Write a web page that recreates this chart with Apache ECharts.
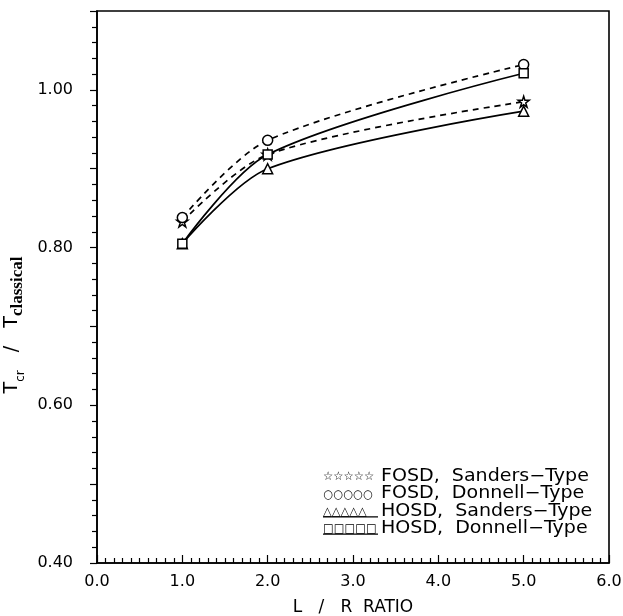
<!DOCTYPE html>
<html><head><meta charset="utf-8">
<script src="https://cdn.jsdelivr.net/npm/echarts@6/dist/echarts.min.js"></script>
<style>html,body{margin:0;padding:0;background:#fff}#c{width:623px;height:616px}</style>
</head><body><div id="c"></div>
<script>
const xValues = [1.0, 2.0, 5.0];
const fosdSanders = [0.833, 0.918, 0.985];
const fosdDonnell = [0.838, 0.936, 1.032];
const hosdSanders = [0.805, 0.900, 0.973];
const hosdDonnell = [0.805, 0.918, 1.021];
const seriesNames = ['FOSD,  Sanders\u2212Type', 'FOSD,  Donnell\u2212Type', 'HOSD,  Sanders\u2212Type', 'HOSD,  Donnell\u2212Type'];
const yLabels = [0.4, 0.6, 0.8, 1.0];

const starPath = 'path://M50,0 L61.8,35.3 L100,35.3 L69.1,57.1 L80.9,92.7 L50,70.8 L19.1,92.7 L30.9,57.1 L0,35.3 L38.2,35.3 Z';
const pairs = a => xValues.map((x, i) => [x, a[i]]);
const F = 'DejaVu Sans';

function mk(name, data, dashed, symbol, size) {
  return {
    name, type: 'line', data: pairs(data), smooth: 0.3,
    symbol, symbolSize: size,
    lineStyle: { color: '#000', width: 1.7, type: dashed ? [6, 5] : 'solid' },
    itemStyle: { color: '#fff', borderColor: '#000', borderWidth: 1.5 },
    z: 3
  };
}

const chart = echarts.init(document.getElementById('c'), null, { renderer: 'canvas' });

const legendRows = [
  { glyph: '\u2606\u2606\u2606\u2606\u2606', text: seriesNames[0] },
  { glyph: '\u25CB\u25CB\u25CB\u25CB\u25CB', text: seriesNames[1] },
  { glyph: '\u25B3\u25B3\u25B3\u25B3\u25B3', text: seriesNames[2] },
  { glyph: '\u25A1\u25A1\u25A1\u25A1\u25A1', text: seriesNames[3] }
];
const graphics = [];
legendRows.forEach((r, i) => {
  const y = 478 + i * 17.4;
  graphics.push({ type: 'text', x: 323, y: y - 7, scaleX: 0.95, style: { text: r.glyph, font: 'bold 12px "DejaVu Sans"', fill: '#000' } });
  if (i > 1) {
    graphics.push({ type: 'line', shape: { x1: 323, y1: y + 4, x2: 378, y2: y + 4 },
      style: { stroke: '#000', lineWidth: 1.2 } });
  }
  graphics.push({ type: 'text', x: 381, y: y - 10, scaleX: 1.12, style: { text: r.text, font: '17px "DejaVu Sans"', fill: '#000' } });
});

chart.setOption({
  animation: false,
  backgroundColor: '#fff',
  grid: { left: 97, right: 14, top: 11, bottom: 53, outerBoundsMode: 'none', containLabel: false,
    show: true, borderColor: '#000', borderWidth: 1.6, backgroundColor: 'transparent' },
  xAxis: {
    type: 'value', min: 0, max: 6, interval: 1,
    name: 'L   /   R  RATIO', nameLocation: 'middle', nameGap: 36,
    nameTextStyle: { fontFamily: F, fontSize: 17, color: '#000' },
    axisLine: { lineStyle: { color: '#000', width: 1.6 } },
    axisTick: { inside: true, length: 8, lineStyle: { color: '#000', width: 1.2 } },
    minorTick: { show: true, splitNumber: 10, length: 5, lineStyle: { color: '#000', width: 1.2 } },
    splitLine: { show: false },
    axisLabel: { fontFamily: F, fontSize: 16, color: '#000', margin: 11, formatter: v => v.toFixed(1) }
  },
  yAxis: {
    type: 'value', min: 0.4, max: 1.1, interval: 0.1,
    name: '{a|T}{b|cr}{a|   /   T}{c|classical}', nameLocation: 'middle', nameGap: 66, nameRotate: 90,
    nameTextStyle: {
      color: '#000', padding: [0, 76, 0, 0],
      rich: {
        a: { fontFamily: F, fontSize: 19, color: '#000', lineHeight: 28, verticalAlign: 'middle' },
        b: { fontFamily: F, fontSize: 12, color: '#000', lineHeight: 28, verticalAlign: 'bottom' },
        c: { fontFamily: 'Liberation Serif', fontWeight: 'bold', fontSize: 17, color: '#000', lineHeight: 28, verticalAlign: 'bottom' }
      }
    },
    axisLine: { lineStyle: { color: '#000', width: 1.6 } },
    axisTick: { inside: false, length: 7, lineStyle: { color: '#000', width: 1.2 } },
    minorTick: { show: true, splitNumber: 5, length: 5, lineStyle: { color: '#000', width: 1.2 } },
    splitLine: { show: false },
    axisLabel: {
      fontFamily: F, fontSize: 16, color: '#000', margin: 24,
      formatter: v => yLabels.some(t => Math.abs(t - v) < 1e-6) ? v.toFixed(2) : ''
    }
  },
  graphic: graphics,
  series: [
    mk(seriesNames[0], fosdSanders, true, starPath, 11),
    mk(seriesNames[1], fosdDonnell, true, 'circle', 10),
    mk(seriesNames[2], hosdSanders, false, 'triangle', 10),
    mk(seriesNames[3], hosdDonnell, false, 'rect', 9)
  ]
});
</script></body></html>
